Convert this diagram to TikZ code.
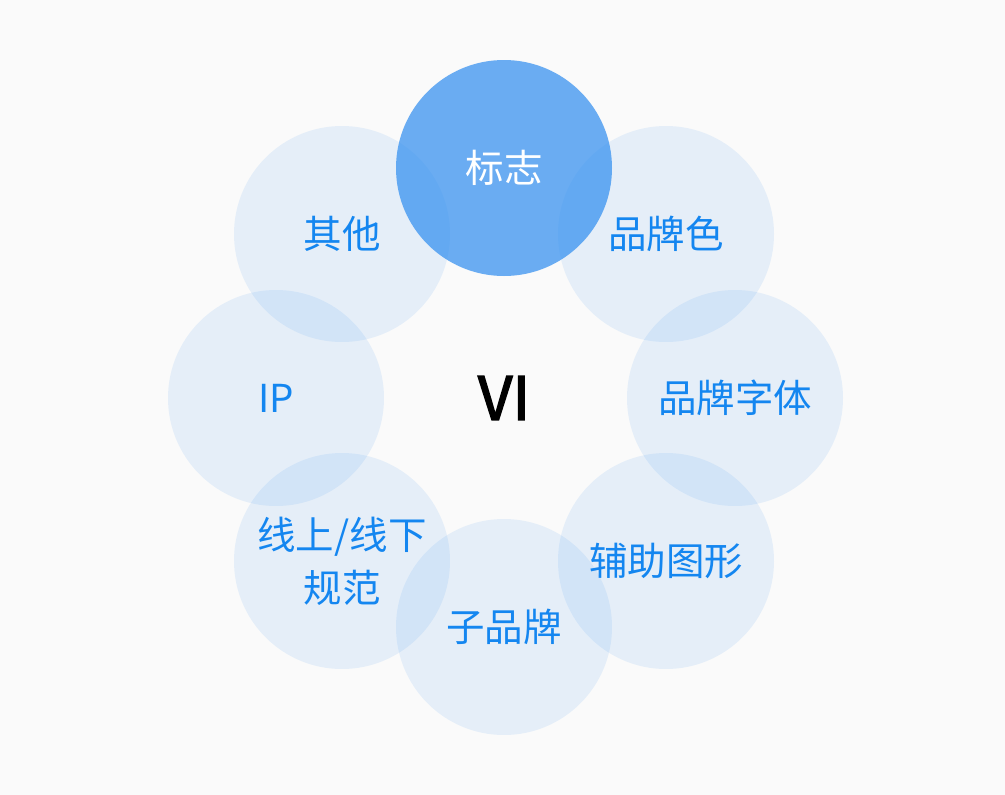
\documentclass[tikz,border=0pt]{standalone}
\usepackage{fontspec}
\newfontfamily\cjk{Noto Sans CJK SC}
\newfontfamily\cjkbold[FakeBold=2.5]{Noto Sans CJK SC}
\definecolor{bgc}{RGB}{250,250,250}
\definecolor{baseblue}{RGB}{45,140,240}
\definecolor{txtblue}{RGB}{20,134,240}
\begin{document}
\begin{tikzpicture}[x=1pt,y=-1pt,
  petal/.style={circle,minimum size=216pt,inner sep=0pt,fill=baseblue,fill opacity=0.1,text opacity=1,
    text=txtblue,font=\cjk\fontsize{38.5}{53}\selectfont,align=center},
  toppetal/.style={petal,fill opacity=0.7,text=white}]
\fill[bgc] (0,0) rectangle (1005,795);
\useasboundingbox (0,0) rectangle (1005,795);
\coordinate (c) at (504,398);
\node[petal] (p1) at (666,234) {品牌色};
\node[petal] (p2) at (735,398) {品牌字体};
\node[petal] (p3) at (666,561) {辅助图形};
\node[petal] (p4) at (504,627) {子品牌};
\node[petal] (p5) at (342,561) {线上/线下\\规范};
\node[petal] (p6) at (276,398) {IP};
\node[petal] (p7) at (342,234) {其他};
\node[toppetal] (p0) at (504,168) {标志};
\node[font=\cjkbold\fontsize{60}{60}\selectfont, text=black] (vi) at (c) {VI};
\end{tikzpicture}
\end{document}
